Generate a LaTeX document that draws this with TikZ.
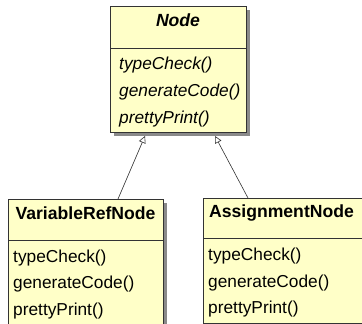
\documentclass[tikz,border=0pt]{standalone}
\usepackage{fontspec}
\setmainfont{Liberation Sans}
\usetikzlibrary{arrows.meta,shadows}
\definecolor{umlfill}{HTML}{FFFFC8}
\definecolor{umlline}{HTML}{333333}
\definecolor{umlshadow}{HTML}{8A8A8A}
\tikzset{
  classbox/.style={draw=umlline, line width=0.9pt, fill=umlfill, anchor=north west,
    inner sep=0pt, outer sep=0pt,
    drop shadow={shadow xshift=4pt, shadow yshift=-4pt, fill=umlshadow, opacity=1}},
  sepline/.style={draw=umlline, line width=0.9pt},
  titletext/.style={inner sep=0pt, anchor=base, font=\fontsize{17.6}{20}\selectfont\bfseries},
  methodtext/.style={inner sep=0pt, anchor=base west, font=\fontsize{17.3}{20}\selectfont},
  inh/.style={draw=umlline, line width=0.6pt, -{Triangle[open, length=7pt, width=7pt, line width=0.6pt]}}
}
\begin{document}
\begin{tikzpicture}[x=1pt, y=-1pt]
\useasboundingbox (0,0) rectangle (362,324);
\clip (0,0) rectangle (362,324);
\fill[white] (0,0) rectangle (362,324);

% Node (abstract)
\node[classbox, minimum width=136pt, minimum height=126pt] (nodebox) at (110,6) {};
\draw[sepline] (110,48) -- (246,48);
\node[titletext, font=\fontsize{17.6}{20}\selectfont\bfseries\itshape] (nodetitle) at (178,27) {Node};
\node[methodtext, font=\fontsize{17.3}{20}\selectfont\itshape] (nm1) at (119,69) {typeCheck()};
\node[methodtext, font=\fontsize{17.3}{20}\selectfont\itshape] (nm2) at (119,96) {generateCode()};
\node[methodtext, font=\fontsize{17.3}{20}\selectfont\itshape] (nm3) at (119,123) {prettyPrint()};

% VariableRefNode
\node[classbox, minimum width=155pt, minimum height=140pt] (vrbox) at (8,199) {};
\draw[sepline] (8,240) -- (163,240);
\node[titletext] (vrtitle) at (85.5,219) {VariableRefNode};
\node[methodtext] (vm1) at (13,262) {typeCheck()};
\node[methodtext] (vm2) at (13,288) {generateCode()};
\node[methodtext] (vm3) at (13,315) {prettyPrint()};

% AssignmentNode
\node[classbox, minimum width=162pt, minimum height=125pt] (asbox) at (203,198) {};
\draw[sepline] (203,238) -- (365,238);
\node[titletext] (astitle) at (281.5,217) {AssignmentNode};
\node[methodtext] (am1) at (208,260) {typeCheck()};
\node[methodtext] (am2) at (208,287) {generateCode()};
\node[methodtext] (am3) at (208,313) {prettyPrint()};

% inheritance connectors
\coordinate (vrtop) at (118,199);
\coordinate (astop) at (248,198);
\coordinate (tip1) at (145,136);
\coordinate (tip2) at (215,136);
\draw[inh] (vrtop) -- (tip1);
\draw[inh] (astop) -- (tip2);
\end{tikzpicture}
\end{document}
